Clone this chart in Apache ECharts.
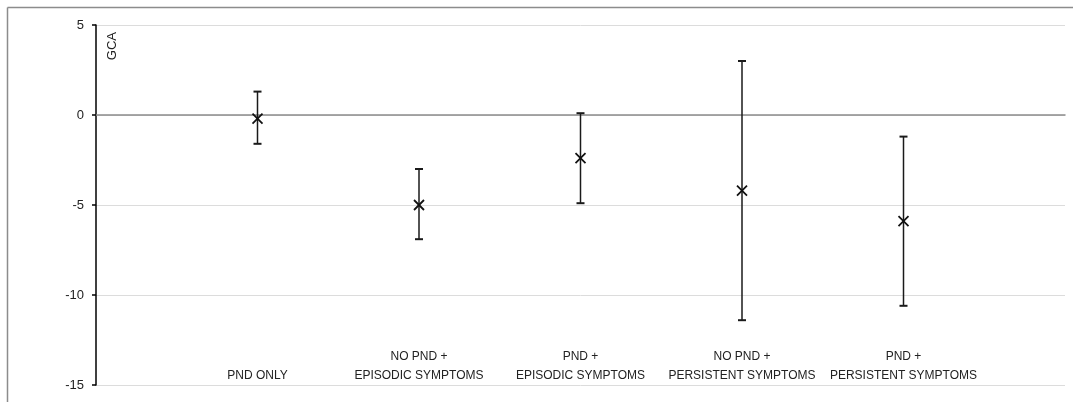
<!DOCTYPE html>
<html>
<head>
<meta charset="utf-8">
<script src="https://cdn.jsdelivr.net/npm/echarts@6/dist/echarts.min.js"></script>
<style>
  html, body { margin: 0; padding: 0; background: #fff; }
  #chart { width: 1073px; height: 402px; }
</style>
</head>
<body>
<div id="chart"></div>
<script>
// Group labels (blank slots at both ends keep the groups inset from the plot edges)
const categories = ['', 'PND ONLY', 'NO PND +\nEPISODIC SYMPTOMS', 'PND +\nEPISODIC SYMPTOMS',
  'NO PND +\nPERSISTENT SYMPTOMS', 'PND +\nPERSISTENT SYMPTOMS', ''];
// Mean GCA per group with lower / upper interval limits
const means = [-0.2, -5.0, -2.4, -4.2, -5.9];
const lower = [-1.6, -6.9, -4.9, -11.4, -10.6];
const upper = [1.3, -3.0, 0.1, 3.0, -1.2];
const yTicks = [-15, -10, -5, 0, 5];

const seriesData = means.map((m, i) => [i + 1, m, lower[i], upper[i]]);

const chart = echarts.init(document.getElementById('chart'));
const FONT = 'Liberation Sans';

chart.setOption({
  animation: false,
  backgroundColor: '#fff',
  grid: { left: 96, right: 8, top: 25, bottom: 17 },
  graphic: [
    { type: 'line', shape: { x1: 7.5, y1: 7.5, x2: 1073, y2: 7.5 }, style: { stroke: '#8c8c8c', lineWidth: 1.5 } },
    { type: 'line', shape: { x1: 7.5, y1: 7.5, x2: 7.5, y2: 402 }, style: { stroke: '#8c8c8c', lineWidth: 1.5 } },
    { type: 'text', left: 106, top: 32, rotation: Math.PI / 2,
      style: { text: 'GCA', font: '13px ' + FONT, fill: '#222' } }
  ],
  xAxis: [
    {
      type: 'category', data: categories, boundaryGap: false,
      axisLine: { onZero: true, lineStyle: { color: '#8c8c8c', width: 1.5 } },
      axisTick: { show: false }, axisLabel: { show: false }, splitLine: { show: false }
    },
    {
      type: 'category', data: categories, boundaryGap: false, position: 'bottom',
      axisLine: { show: false }, axisTick: { show: false }, splitLine: { show: false },
      axisLabel: {
        interval: 0, margin: 0, verticalAlign: 'bottom', align: 'center',
        fontFamily: FONT, fontSize: 12, lineHeight: 19, color: '#222'
      }
    }
  ],
  yAxis: {
    type: 'value', min: -15, max: 5, interval: 5,
    axisLine: { show: true, onZero: false, lineStyle: { color: '#000', width: 1.5 } },
    axisTick: { show: true, length: 4, lineStyle: { color: '#000', width: 1.5 } },
    axisLabel: { fontFamily: FONT, fontSize: 13, color: '#222', margin: 12,
      formatter: v => yTicks.includes(v) ? String(v) : '' },
    splitLine: { lineStyle: { color: '#dcdcdc', width: 1 } }
  },
  series: [{
    type: 'custom',
    xAxisIndex: 0,
    data: seriesData,
    renderItem: function (params, api) {
      const x = api.value(0);
      const pMean = api.coord([x, api.value(1)]);
      const pLow = api.coord([x, api.value(2)]);
      const pHigh = api.coord([x, api.value(3)]);
      const cap = 4, s = 5;
      const stroke = { stroke: '#1a1a1a', lineWidth: 1.5 };
      return {
        type: 'group',
        children: [
          { type: 'line', shape: { x1: pLow[0], y1: pLow[1], x2: pHigh[0], y2: pHigh[1] }, style: stroke },
          { type: 'line', shape: { x1: pLow[0] - cap, y1: pLow[1], x2: pLow[0] + cap, y2: pLow[1] }, style: { stroke: '#1a1a1a', lineWidth: 2 } },
          { type: 'line', shape: { x1: pHigh[0] - cap, y1: pHigh[1], x2: pHigh[0] + cap, y2: pHigh[1] }, style: { stroke: '#1a1a1a', lineWidth: 2 } },
          { type: 'line', shape: { x1: pMean[0] - s, y1: pMean[1] - s, x2: pMean[0] + s, y2: pMean[1] + s }, style: { stroke: '#111', lineWidth: 1.8 } },
          { type: 'line', shape: { x1: pMean[0] - s, y1: pMean[1] + s, x2: pMean[0] + s, y2: pMean[1] - s }, style: { stroke: '#111', lineWidth: 1.8 } }
        ]
      };
    }
  }]
});
</script>
</body>
</html>
